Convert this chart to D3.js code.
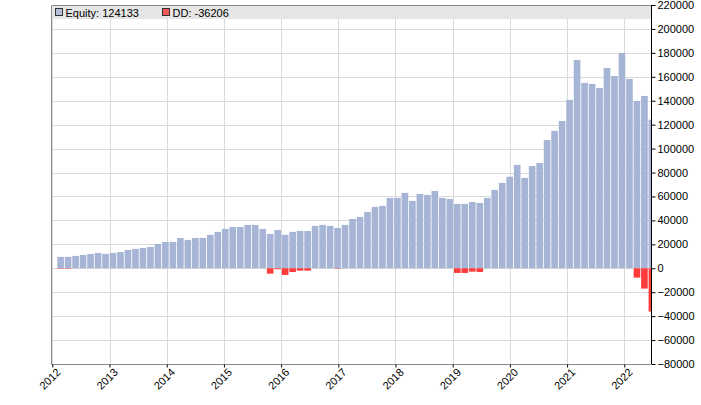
<!DOCTYPE html>
<html>
<head>
<meta charset="utf-8">
<script src="https://cdn.jsdelivr.net/npm/d3@7"></script>
<style>
  html, body { margin: 0; padding: 0; background: #fff; }
  svg { display: block; font-family: "Liberation Sans", Arial, sans-serif; }
</style>
</head>
<body>
<svg id="chart" width="701" height="405"></svg>
<script>
// ---- data ----
const equity = [
  9500, 9500, 10300, 11100, 12000, 12800, 12000, 12800, 13600, 15300,
  16200, 17000, 17800, 20300, 22000, 22000, 25300, 23700, 25300, 25300,
  27900, 30400, 32900, 34500, 34500, 36200, 36200, 32900, 28700, 32000,
  27900, 30400, 31200, 31200, 35400, 36200, 35400, 33700, 36200, 41200,
  42900, 47100, 51300, 52100, 58800, 58800, 63000, 56300, 62100, 61300,
  64600, 58800, 57900, 53800, 53800, 55400, 54600, 58800, 65500, 71300,
  76500, 86400, 75500, 85500, 88000, 107200, 114800, 123100, 140700, 174100,
  154900, 154000, 150700, 167400, 160700, 179900, 158200, 139800, 144000, 124133
];
const drawdown = [
  -100, -100, 0, 0, 0, 0, 0, 0, 0, 0,
  0, 0, 0, 0, 0, 0, 0, 0, 0, 0,
  0, 0, 0, 0, 0, 0, 0, 0, -4500, -800,
  -5600, -3100, -2000, -2000, 0, 0, 0, -200, 0, 0,
  0, 0, 0, 0, 0, 0, 0, 0, 0, 0,
  0, 0, 0, -3900, -3900, -2800, -3100, 0, 0, 0,
  0, 0, 0, 0, 0, 0, 0, 0, 0, 0,
  0, 0, 0, 0, 0, 0, 0, -7800, -17000, -36206
];
const yearTicks = [2012, 2013, 2014, 2015, 2016, 2017, 2018, 2019, 2020, 2021, 2022];
const yTicks = [220000, 200000, 180000, 160000, 140000, 120000, 100000, 80000, 60000, 40000, 20000, 0, -20000, -40000, -60000, -80000];
const legendItems = [
  { label: "Equity: 124133", color: "#b7c0d8" },
  { label: "DD: -36206", color: "#f25a5a" }
];
// bar period layout (fractional years)
const firstBarYear = 2012.087;
const barPeriod = 0.13086;

// ---- layout ----
const L = 51, R = 651, T = 5, B = 364;
const svg = d3.select("#chart");

const x = d3.scaleLinear().domain([2011.977, 2022.467]).range([L, R]);
const y = d3.scaleLinear().domain([-80000, 220000]).range([B, T]);

svg.append("defs").append("clipPath").attr("id", "plotclip")
  .append("rect").attr("x", L).attr("y", T).attr("width", R - L).attr("height", B - T);

// grid
const grid = svg.append("g");
grid.selectAll("line.h").data(yTicks).join("line")
  .attr("x1", L).attr("x2", R)
  .attr("y1", d => Math.round(y(d)) + 0.5).attr("y2", d => Math.round(y(d)) + 0.5)
  .attr("stroke", "#dadada").attr("stroke-width", 1);
grid.selectAll("line.v").data(yearTicks).join("line")
  .attr("x1", d => Math.round(x(d)) + 0.5).attr("x2", d => Math.round(x(d)) + 0.5)
  .attr("y1", T).attr("y2", B)
  .attr("stroke", "#dadada").attr("stroke-width", 1);

// legend band
svg.append("rect").attr("x", L).attr("y", T).attr("width", R - L).attr("height", 14)
  .attr("fill", "#e5e5e5");

// bars
const idx = d3.range(equity.length);
const bx = i => x(firstBarYear + i * barPeriod);
const bw = x(firstBarYear + barPeriod) - x(firstBarYear) - 0.85;
const bars = svg.append("g").attr("clip-path", "url(#plotclip)");
bars.selectAll("rect.eq").data(idx).join("rect")
  .attr("x", i => bx(i)).attr("width", bw)
  .attr("y", i => y(Math.max(0, equity[i])))
  .attr("height", i => Math.abs(y(equity[i]) - y(0)))
  .attr("fill", "#a6b4d5");
bars.selectAll("rect.dd").data(idx.filter(i => drawdown[i] < 0)).join("rect")
  .attr("x", i => bx(i)).attr("width", bw)
  .attr("y", y(0))
  .attr("height", i => Math.max(0.4, y(drawdown[i]) - y(0)))
  .attr("fill", "#ff3b3b");

// frame
svg.append("path")
  .attr("d", `M${R},${T + 0.5}H${L + 0.5}V${B + 0.5}H${R}`)
  .attr("fill", "none").attr("stroke", "#8a8a8a").attr("stroke-width", 1);

// right axis
const yAxis = d3.axisRight(y).tickValues(yTicks).tickSize(4).tickPadding(2).tickFormat(d3.format("d"));
const ya = svg.append("g").attr("transform", `translate(${R + 0.5},0)`).call(yAxis);
ya.select(".domain").attr("stroke", "#000").attr("d", `M0,${T}V${B}`);
ya.selectAll("text").attr("font-size", 11).attr("fill", "#000")
  .attr("font-family", "'Liberation Sans', Arial, sans-serif");

// bottom axis
const xAxis = d3.axisBottom(x).tickValues(yearTicks).tickSize(3).tickFormat(d3.format("d"));
const xa = svg.append("g").attr("transform", `translate(0,${B + 0.5})`).call(xAxis);
xa.select(".domain").remove();
xa.selectAll("text")
  .attr("font-size", 11).attr("fill", "#000")
  .attr("font-family", "'Liberation Sans', Arial, sans-serif")
  .attr("text-anchor", "end")
  .attr("transform", "translate(3,3) rotate(-45)")
  .attr("y", 0).attr("dy", "0.71em").attr("dx", "0");

// legend
const lg = svg.append("g");
const legX = [55, 162];
legendItems.forEach((it, k) => {
  lg.append("rect").attr("x", legX[k] + 0.5).attr("y", 8.5).attr("width", 7).attr("height", 7)
    .attr("fill", it.color).attr("stroke", "#333").attr("stroke-width", 1);
  lg.append("text").attr("x", legX[k] + 10.5).attr("y", 16.5)
    .attr("font-size", 11).attr("fill", "#000").text(it.label);
});
</script>
</body>
</html>
